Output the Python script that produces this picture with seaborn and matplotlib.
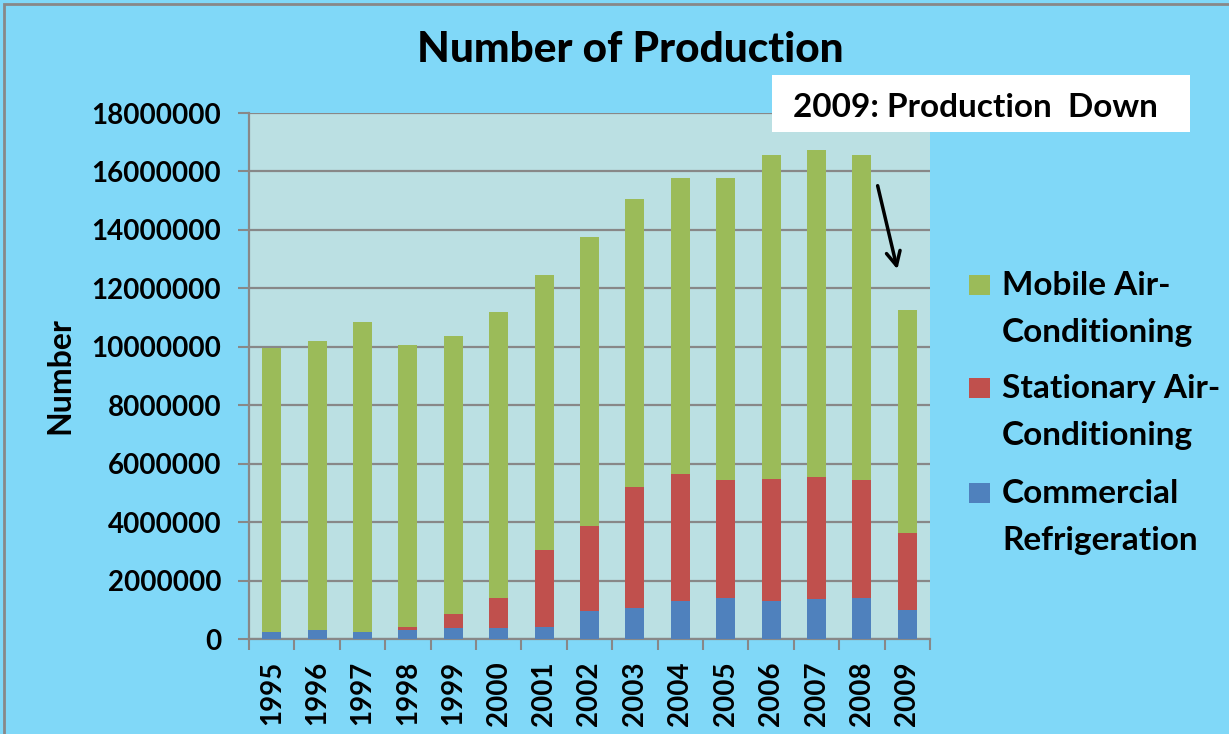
import numpy as np
import matplotlib
matplotlib.use("Agg")
import matplotlib.pyplot as plt
import seaborn as sns
import pandas as pd
from matplotlib.patches import Rectangle

years = ["1995", "1996", "1997", "1998", "1999", "2000", "2001", "2002",
         "2003", "2004", "2005", "2006", "2007", "2008", "2009"]
commercial = [230000, 300000, 230000, 320000, 360000, 360000, 410000, 960000,
              1070000, 1310000, 1420000, 1310000, 1370000, 1420000, 1000000]
stationary = [0, 0, 0, 100000, 480000, 1060000, 2650000, 2920000,
              4120000, 4350000, 4010000, 4180000, 4190000, 4010000, 2640000]
mobile = [9740000, 9900000, 10620000, 9640000, 9530000, 9780000, 9400000, 9880000,
          9870000, 10120000, 10350000, 11060000, 11170000, 11120000, 7620000]
series_names = [("Mobile Air-", "Conditioning"), ("Stationary Air-", "Conditioning"),
                ("Commercial", "Refrigeration")]
colors = ["#9BBB59", "#C0504D", "#4F81BD"]

sns.set_theme(style="white")
FONT = ["Lato", "DejaVu Sans"]
plt.rcParams["font.family"] = FONT
plt.rcParams["font.weight"] = "bold"
for k in ["text.color", "axes.labelcolor", "xtick.labelcolor", "ytick.labelcolor"]:
    plt.rcParams[k] = "black"

W, H = 1229, 734
fig = plt.figure(figsize=(W / 100, H / 100), dpi=100)
fig.patch.set_facecolor("#80D8F8")
ax = fig.add_axes([249 / W, 1 - 639 / H, (930 - 249) / W, (639 - 113) / H])
ax.set_facecolor("#BBE0E3")

df = pd.DataFrame({"year": years, "c": commercial, "s": stationary, "m": mobile})
df["cs"] = df["c"] + df["s"]
df["total"] = df["cs"] + df["m"]

for col, colr in [("total", colors[0]), ("cs", colors[1]), ("c", colors[2])]:
    sns.barplot(data=df, x="year", y=col, color=colr, width=0.42,
                saturation=1, ax=ax, zorder=3, linewidth=0)

ax.set_ylim(0, 18000000)
ax.set_xlim(-0.5, len(years) - 0.5)
ax.set_yticks(np.arange(0, 18000001, 2000000))
ax.set_yticklabels([f"{int(v)}" for v in np.arange(0, 18000001, 2000000)],
                   fontsize=20, fontweight="bold")
ax.yaxis.grid(True, color="#888888", linewidth=1.6, zorder=1)
ax.set_axisbelow(True)
ax.set_xticks(range(len(years)))
ax.set_xticklabels(years, rotation=90, fontsize=20, fontweight="bold")
ax.tick_params(axis="x", length=0, pad=16)
ax.set_xticks(np.arange(-0.5, len(years), 1), minor=True)
ax.tick_params(axis="x", which="minor", length=8, width=1.5, color="#888888",
               direction="out", bottom=True)
ax.tick_params(axis="y", length=8, width=1.5, color="#888888", direction="out",
               left=True, pad=12)
for s in ["top", "right"]:
    ax.spines[s].set_visible(False)
for s in ["left", "bottom"]:
    ax.spines[s].set_color("#888888")
    ax.spines[s].set_linewidth(1.6)
ax.set_xlabel("")
ax.set_ylabel("Number", fontsize=23, fontweight="bold", labelpad=12)

fig.text(630 / W, 1 - 50 / H, "Number of Production", ha="center", va="center",
         fontsize=30.5, fontweight="black")

# annotation box
fig.patches.append(Rectangle((772 / W, 1 - 132 / H), (1190 - 772) / W, 57 / H,
                             transform=fig.transFigure, facecolor="white",
                             edgecolor="none", zorder=5))
fig.text(793 / W, 1 - 117 / H, "2009: Production  Down", ha="left", va="baseline",
         fontsize=24, fontweight="bold", zorder=6)
ax.annotate("", xy=(898 / W, 1 - 272 / H), xytext=(877 / W, 1 - 183 / H),
            xycoords="figure fraction", textcoords="figure fraction",
            arrowprops=dict(arrowstyle="->", color="black", lw=2.5,
                            mutation_scale=25), annotation_clip=False)

# legend (marker aligned with first line of each two-line label)
base_y = [295, 398, 503]
for (l1, l2), colr, by in zip(series_names, colors, base_y):
    fig.patches.append(Rectangle((969 / W, 1 - by / H), 21 / W, 20 / H,
                                 transform=fig.transFigure, facecolor=colr,
                                 edgecolor="none"))
    fig.text(1002 / W, 1 - by / H, l1, ha="left", va="baseline", fontsize=24,
             fontweight="bold")
    fig.text(1002 / W, 1 - (by + 47) / H, l2, ha="left", va="baseline", fontsize=24,
             fontweight="bold")

# outer border
fig.patches.append(Rectangle((4 / W, -0.1), 1.2, 1.1 - 4 / H,
                             transform=fig.transFigure, facecolor="none",
                             edgecolor="#888888", linewidth=2))

fig.savefig("out.png", dpi=100, facecolor=fig.get_facecolor())
